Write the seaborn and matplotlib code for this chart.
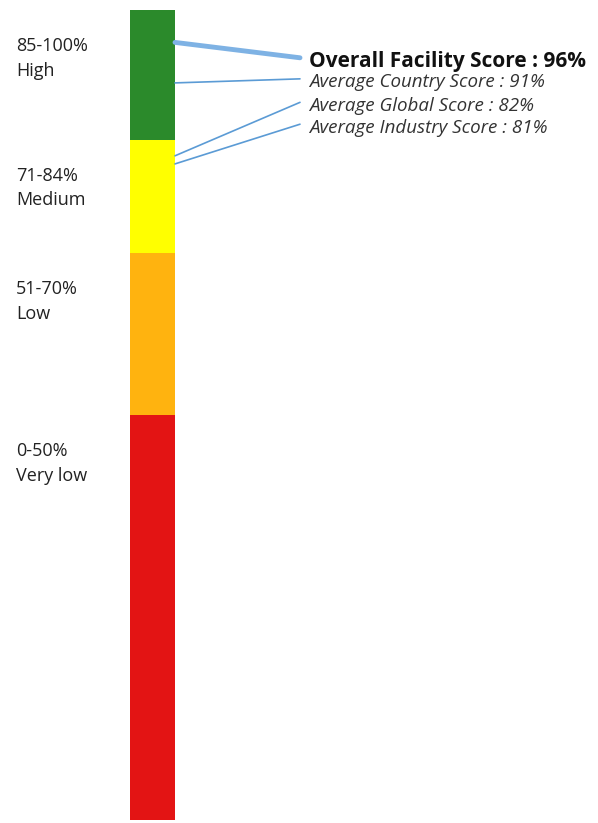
import matplotlib
matplotlib.use("Agg")
import matplotlib.pyplot as plt
import seaborn as sns

# score bands (bottom to top)
band_ranges = ["0-50%", "51-70%", "71-84%", "85-100%"]
band_levels = ["Very low", "Low", "Medium", "High"]
band_tops = [50, 70, 84, 100]
band_colors = ["#e31414", "#ffb30f", "#ffff00", "#2b8a2b"]

# scores shown on the right
score_names = ["Overall Facility Score", "Average Country Score",
               "Average Global Score", "Average Industry Score"]
score_values = [96, 91, 82, 81]

sns.set_style("white")
plt.rcParams["font.family"] = ["Open Sans", "DejaVu Sans"]

fig = plt.figure(figsize=(5.98, 8.23), dpi=100)
ax = fig.add_axes([0, 3 / 823, 1, 810 / 823])

# draw tallest band first so the smaller ones sit on top of it
for top, color in sorted(zip(band_tops, band_colors), reverse=True):
    sns.barplot(x=["scale"], y=[top], color=color, saturation=1,
                width=0.8, linewidth=0, ax=ax)

ax.set_ylim(0, 100)
ax.set_xlim(-152.5 / 56.25, (598 - 152.5) / 56.25)
ax.axis("off")

tr = ax.get_yaxis_transform()

# band labels on the left
for rng, lvl, top in zip(band_ranges, band_levels, band_tops):
    ax.text(16 / 598, top - 6.0, f"{rng}\n{lvl}", transform=tr,
            ha="left", va="center", fontsize=13, linespacing=1.45,
            color="#222222")

# leader lines + score labels
line_end_y = [94.1, 91.5, 88.6, 85.9]
text_y = [93.6, 91.1, 88.2, 85.4]
for i, (name, val) in enumerate(zip(score_names, score_values)):
    first = i == 0
    ax.annotate("", xy=(0.4, val), xycoords="data",
                xytext=(300 / 598, line_end_y[i]), textcoords=tr,
                arrowprops=dict(arrowstyle="-", shrinkA=0, shrinkB=0,
                                lw=3.5 if first else 1.2,
                                color="#7eb2e4" if first else "#5b9bd5"))
    ax.text(309 / 598, text_y[i], f"{name} : {val}%", transform=tr,
            ha="left", va="center",
            fontsize=15 if first else 13.5,
            fontweight="bold" if first else "normal",
            fontstyle="normal" if first else "italic",
            color="#111111" if first else "#333333")

fig.savefig("out.png", dpi=100)
